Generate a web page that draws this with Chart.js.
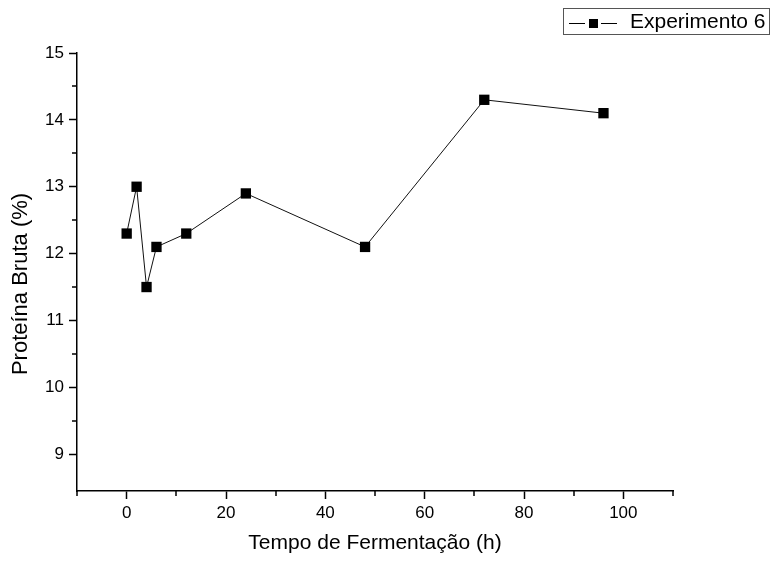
<!DOCTYPE html>
<html>
<head>
<meta charset="utf-8">
<script src="https://cdn.jsdelivr.net/npm/chart.js@4/dist/chart.umd.min.js"></script>
<style>
  html, body { margin: 0; padding: 0; background: #fff; }
</style>
</head>
<body>
<canvas id="myChart" width="770" height="563"></canvas>
<script>
const tempo = [0, 2, 4, 6, 12, 24, 48, 72, 96];
const proteina = [12.3, 13.0, 11.5, 12.1, 12.3, 12.9, 12.1, 14.3, 14.1];
const xTicks = [0, 20, 40, 60, 80, 100];
const xMinor = [-10, 10, 30, 50, 70, 90, 110];
const yTicks = [9, 10, 11, 12, 13, 14, 15];
const yMinor = [9.5, 10.5, 11.5, 12.5, 13.5, 14.5];
const serieLabel = "Experimento 6";
const yTitulo = "Proteína Bruta (%)";

const fonte = "'Liberation Sans', Arial, Helvetica, sans-serif";

// small ticks between the labelled ones
const minorTicks = {
  id: "minorTicks",
  afterDraw(chart) {
    const ctx = chart.ctx;
    const x = chart.scales.x, y = chart.scales.y;
    ctx.save();
    ctx.strokeStyle = "#000";
    ctx.lineWidth = 1.5;
    ctx.beginPath();
    xMinor.forEach(v => {
      const px = Math.round(x.getPixelForValue(v));
      ctx.moveTo(px, x.top);
      ctx.lineTo(px, x.top + 5);
    });
    yMinor.forEach(v => {
      const py = Math.round(y.getPixelForValue(v));
      ctx.moveTo(y.right, py);
      ctx.lineTo(y.right - 5, py);
    });
    ctx.stroke();
    ctx.restore();
  }
};

// y title drawn by hand, it sits a bit below the middle of the axis in the original
const yTitle = {
  id: "yTitle",
  afterDraw(chart) {
    const ctx = chart.ctx;
    const area = chart.chartArea;
    ctx.save();
    ctx.translate(21, (area.top + area.bottom) / 2 + 12);
    ctx.rotate(-Math.PI / 2);
    ctx.font = "22px " + fonte;
    ctx.fillStyle = "#000";
    ctx.textAlign = "center";
    ctx.textBaseline = "middle";
    ctx.fillText(yTitulo, 0, 0);
    ctx.restore();
  }
};

// boxed legend in the top right corner: line - square - line + label
const legendBox = {
  id: "legendBox",
  afterDraw(chart) {
    const ctx = chart.ctx;
    const ds = chart.data.datasets[0];
    ctx.save();
    ctx.strokeStyle = "#555";
    ctx.lineWidth = 1;
    ctx.strokeRect(563.5, 8.5, 206, 26);
    ctx.strokeStyle = "#000";
    ctx.beginPath();
    ctx.moveTo(569, 23.5);
    ctx.lineTo(585, 23.5);
    ctx.moveTo(601, 23.5);
    ctx.lineTo(617, 23.5);
    ctx.stroke();
    ctx.fillStyle = "#000";
    ctx.fillRect(589, 19, 9, 9);
    ctx.font = "21px " + fonte;
    ctx.textBaseline = "middle";
    ctx.fillText(ds.label, 630, 22);
    ctx.restore();
  }
};

const chart = new Chart(document.getElementById("myChart").getContext("2d"), {
  type: "line",
  data: {
    datasets: [
      {
        label: serieLabel,
        data: tempo.map((t, i) => ({ x: t, y: proteina[i] })),
        borderColor: "#111",
        borderWidth: 1,
        backgroundColor: "#000",
        pointStyle: "rect",
        pointRadius: 7.3,
        pointBorderWidth: 0,
        tension: 0,
      },
    ],
  },
  options: {
    responsive: false,
    animation: false,
    layout: { padding: { top: 53, right: 97, left: 0, bottom: 0 } },
    plugins: {
      legend: { display: false },
      tooltip: { enabled: false },
    },
    scales: {
      x: {
        type: "linear",
        min: -10,
        max: 110,
        afterBuildTicks: (scale) => { scale.ticks = xTicks.map(v => ({ value: v })); },
        afterFit: (scale) => { scale.height = 72; },
        ticks: { color: "#000", font: { family: fonte, size: 17 }, padding: 4, maxRotation: 0 },
        grid: { drawOnChartArea: false, tickLength: 8, tickColor: "#000", tickWidth: 1.5 },
        border: { display: true, color: "#000", width: 1.5 },
        title: {
          display: true,
          text: "Tempo de Fermentação (h)",
          color: "#000",
          font: { family: fonte, size: 21 },
          padding: { top: 0, bottom: 7 },
        },
      },
      y: {
        type: "linear",
        min: 8.45,
        max: 15,
        afterBuildTicks: (scale) => { scale.ticks = yTicks.map(v => ({ value: v })); },
        afterFit: (scale) => { scale.width = 77; },
        ticks: { color: "#000", font: { family: fonte, size: 17 }, padding: 5 },
        grid: { drawOnChartArea: false, tickLength: 8, tickColor: "#000", tickWidth: 1.5 },
        border: { display: true, color: "#000", width: 1.5 },
      },
    },
  },
  plugins: [minorTicks, yTitle, legendBox],
});
</script>
</body>
</html>
